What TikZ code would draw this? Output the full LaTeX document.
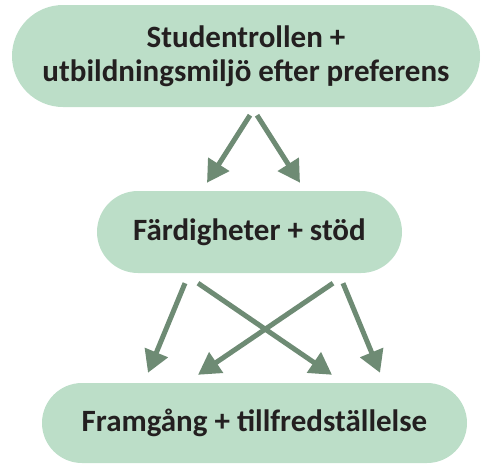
\documentclass[tikz,border=0pt]{standalone}
\usepackage{fontspec}
\setmainfont{Carlito}
\usetikzlibrary{arrows.meta,calc}

\definecolor{boxgreen}{HTML}{BCDEC8}
\definecolor{arrowgreen}{HTML}{6E8B74}
\definecolor{textdark}{HTML}{231F20}

\begin{document}
\begin{tikzpicture}[
  x=1pt, y=-1pt,
  box/.style={fill=boxgreen, align=center, text=textdark, font=\bfseries\fontsize{31}{34}\selectfont, inner sep=0pt},
  arrow/.style={-{Triangle[length=22pt, width=24pt]}, line width=5pt, draw=arrowgreen}
]
\useasboundingbox (0,0) rectangle (485,464);

\node[box, minimum width=468pt, minimum height=102pt, rounded corners=51pt] (roles) at (246,56) {Studentrollen +\\utbildningsmiljö efter preferens};
\node[box, minimum width=305pt, minimum height=82pt, rounded corners=41pt] (skills) at (249.5,232) {Färdigheter + stöd};
\node[box, minimum width=425pt, minimum height=80pt, rounded corners=40pt] (success) at (254.5,423) {Framgång + tillfredställelse};

\draw[arrow] ([xshift=4pt,yshift=-8pt]roles.south) -- ([xshift=-42.5pt,yshift=8pt]skills.north);
\draw[arrow] ([xshift=11pt,yshift=-8pt]roles.south) -- ([xshift=50.5pt,yshift=8pt]skills.north);

\draw[arrow] ([xshift=-64.5pt,yshift=-10pt]skills.south) -- ([xshift=-106.5pt,yshift=10pt]success.north);
\draw[arrow] ([xshift=-51.5pt,yshift=-10pt]skills.south) -- ([xshift=77.5pt,yshift=8pt]success.north);
\draw[arrow] ([xshift=83.5pt,yshift=-10pt]skills.south) -- ([xshift=-56.5pt,yshift=8pt]success.north);
\draw[arrow] ([xshift=93.5pt,yshift=-10pt]skills.south) -- ([xshift=125.5pt,yshift=10pt]success.north);
\end{tikzpicture}
\end{document}
